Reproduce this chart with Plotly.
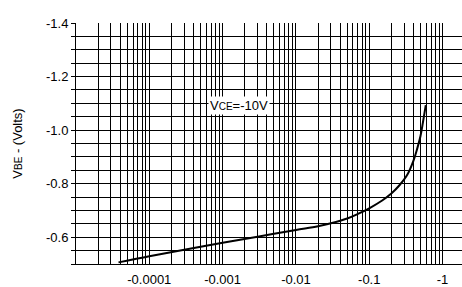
import plotly.graph_objects as go

# Collector current magnitude (A) and base-emitter voltage (V)
ic = [3.8e-5, 1e-4, 3e-4, 1e-3, 3e-3, 0.01, 0.02, 0.03, 0.05, 0.07, 0.1, 0.15, 0.2, 0.26, 0.33, 0.4, 0.45, 0.5, 0.54, 0.59]
vbe = [-0.506, -0.529, -0.553, -0.579, -0.602, -0.627, -0.641, -0.652, -0.670, -0.687, -0.708, -0.737,
       -0.763, -0.795, -0.833, -0.885, -0.930, -0.978, -1.029, -1.093]

x_ticks = [1e-4, 1e-3, 1e-2, 1e-1, 1]
x_ticktext = ["-0.0001", "-0.001", "-0.01", "-0.1", "-1"]
y_ticks = [-0.6, -0.8, -1.0, -1.2, -1.4]
y_ticktext = ["-0.6", "-0.8", "-1.0", "-1.2", "-1.4"]

x_minor = [m * 10.0 ** e for e in range(-5, 1) for m in range(1, 10)]
y_minor = [-(0.5 + 0.05 * i) for i in range(19)]

font = dict(family="Liberation Sans, Arial, sans-serif", size=13, color="black")

fig = go.Figure()
fig.add_trace(go.Scatter(x=ic, y=vbe, mode="lines", line=dict(color="black", width=2, shape="spline"),
                         showlegend=False, hoverinfo="skip"))

fig.add_annotation(x=-2.77, y=-1.093, xref="x", yref="y",
                   text="V<span style='font-size:10px'>CE</span>=-10V", showarrow=False,
                   bgcolor="white", font=font, borderpad=1)

fig.update_layout(
    width=462, height=287,
    margin=dict(l=76, r=0, t=23, b=21),
    paper_bgcolor="white", plot_bgcolor="white",
    font=font,
    xaxis=dict(type="log", range=[-5, 0.265], tickvals=x_ticks, ticktext=x_ticktext,
               showgrid=True, gridcolor="black", gridwidth=1,
               showline=True, linecolor="black", linewidth=1, ticks="", ticklabelstandoff=3,
               zeroline=False,
               minor=dict(tickvals=x_minor, showgrid=True, gridcolor="black", gridwidth=1, ticks="")),
    yaxis=dict(range=[-0.5, -1.4], tickvals=y_ticks, ticktext=y_ticktext,
               showgrid=True, gridcolor="black", gridwidth=1,
               showline=True, linecolor="black", linewidth=1,
               ticks="outside", ticklen=4, tickcolor="black", zeroline=False,
               title=dict(text="V<span style='font-size:10px'>BE</span> - (Volts)", font=font, standoff=20),
               minor=dict(tickvals=y_minor, showgrid=True, gridcolor="black", gridwidth=1,
                          ticks="outside", ticklen=4, tickcolor="black")),
)

fig.write_html("out.html", config={"displayModeBar": False, "staticPlot": True},
               post_script="document.body.style.margin='0';")
